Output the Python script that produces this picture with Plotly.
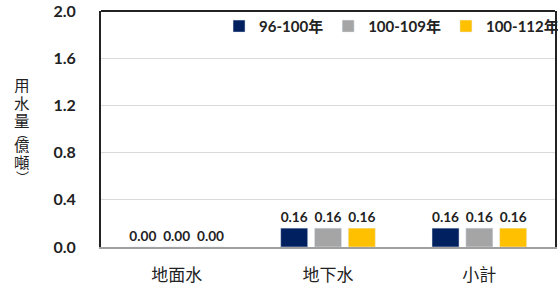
import plotly.graph_objects as go

categories = ["地面水", "地下水", "小計"]
series_names = ["96-100年", "100-109年", "100-112年"]
s1 = [0.00, 0.16, 0.16]
s2 = [0.00, 0.16, 0.16]
s3 = [0.00, 0.16, 0.16]
colors = ["#002060", "#A5A5A5", "#FFC000"]
y_ticks = [0.0, 0.4, 0.8, 1.2, 1.6, 2.0]
y_title_chars = ["用", "水", "量", "︵", "億", "噸", "︶"]

W, H = 558, 289
ML, MR, MT, MB = 101, 3, 11, 42
ph = H - MT - MB

fig = go.Figure()
for name, vals, c in zip(series_names, [s1, s2, s3], colors):
    fig.add_trace(go.Bar(
        x=categories, y=vals, name=name, marker_color=c,
        texttemplate="%{y:.2f}", textposition="outside",
        textfont=dict(family="Lato", size=14, color="#222", weight="bold"),
        cliponaxis=False,
    ))

# vertical axis title, one character per line
title_px = [85, 103, 120, 132, 145, 162, 176]
for ch, py in zip(y_title_chars, title_px):
    small = ch in "︵︶"
    fig.add_annotation(text=ch, xref="paper", yref="paper",
                       x=(22 - ML) / (W - ML - MR), y=(H - MB - py) / ph,
                       xanchor="center", yanchor="middle", showarrow=False,
                       height=11 if small else 16, valign="middle",
                       font=dict(family="Noto Sans CJK TC", size=13 if small else 15.5, color="#222"))

fig.update_layout(
    width=W, height=H,
    margin=dict(l=ML, r=MR, t=MT, b=MB, autoexpand=False),
    paper_bgcolor="white", plot_bgcolor="white",
    barmode="group", bargap=0.33, bargroupgap=0.2,
    font=dict(family="Lato, Noto Sans CJK TC", color="#222"),
    showlegend=True,
    legend=dict(orientation="h", x=0.26, y=0.935, xanchor="left", yanchor="middle",
                font=dict(family="Lato, Noto Sans CJK TC", size=15, color="#222", weight="bold"),
                bgcolor="rgba(0,0,0,0)", itemwidth=30, traceorder="normal"),
    xaxis=dict(showline=True, linecolor="#A0A0A0", linewidth=2, ticks="", automargin=False,
               tickfont=dict(family="Noto Sans CJK TC", size=17, color="#222"),
               ticklabelstandoff=12),
    yaxis=dict(range=[0, 2.0], tickvals=y_ticks, ticktext=[f"{v:.1f}" for v in y_ticks],
               showline=True, linecolor="#222", linewidth=2, mirror=True, automargin=False,
               showgrid=True, gridcolor="#D9D9D9", gridwidth=1, zeroline=False,
               tickfont=dict(family="Lato", size=16, color="#222", weight="bold"),
               ticklabelstandoff=20),
    shapes=[dict(type="line", xref="paper", yref="paper", x0=0, x1=1, y0=1, y1=1,
                 line=dict(color="#222", width=2))],
)

fig.write_html("out.html", config={"displayModeBar": False},
               post_script="document.body.style.margin='0px';document.body.style.overflow='hidden';")
